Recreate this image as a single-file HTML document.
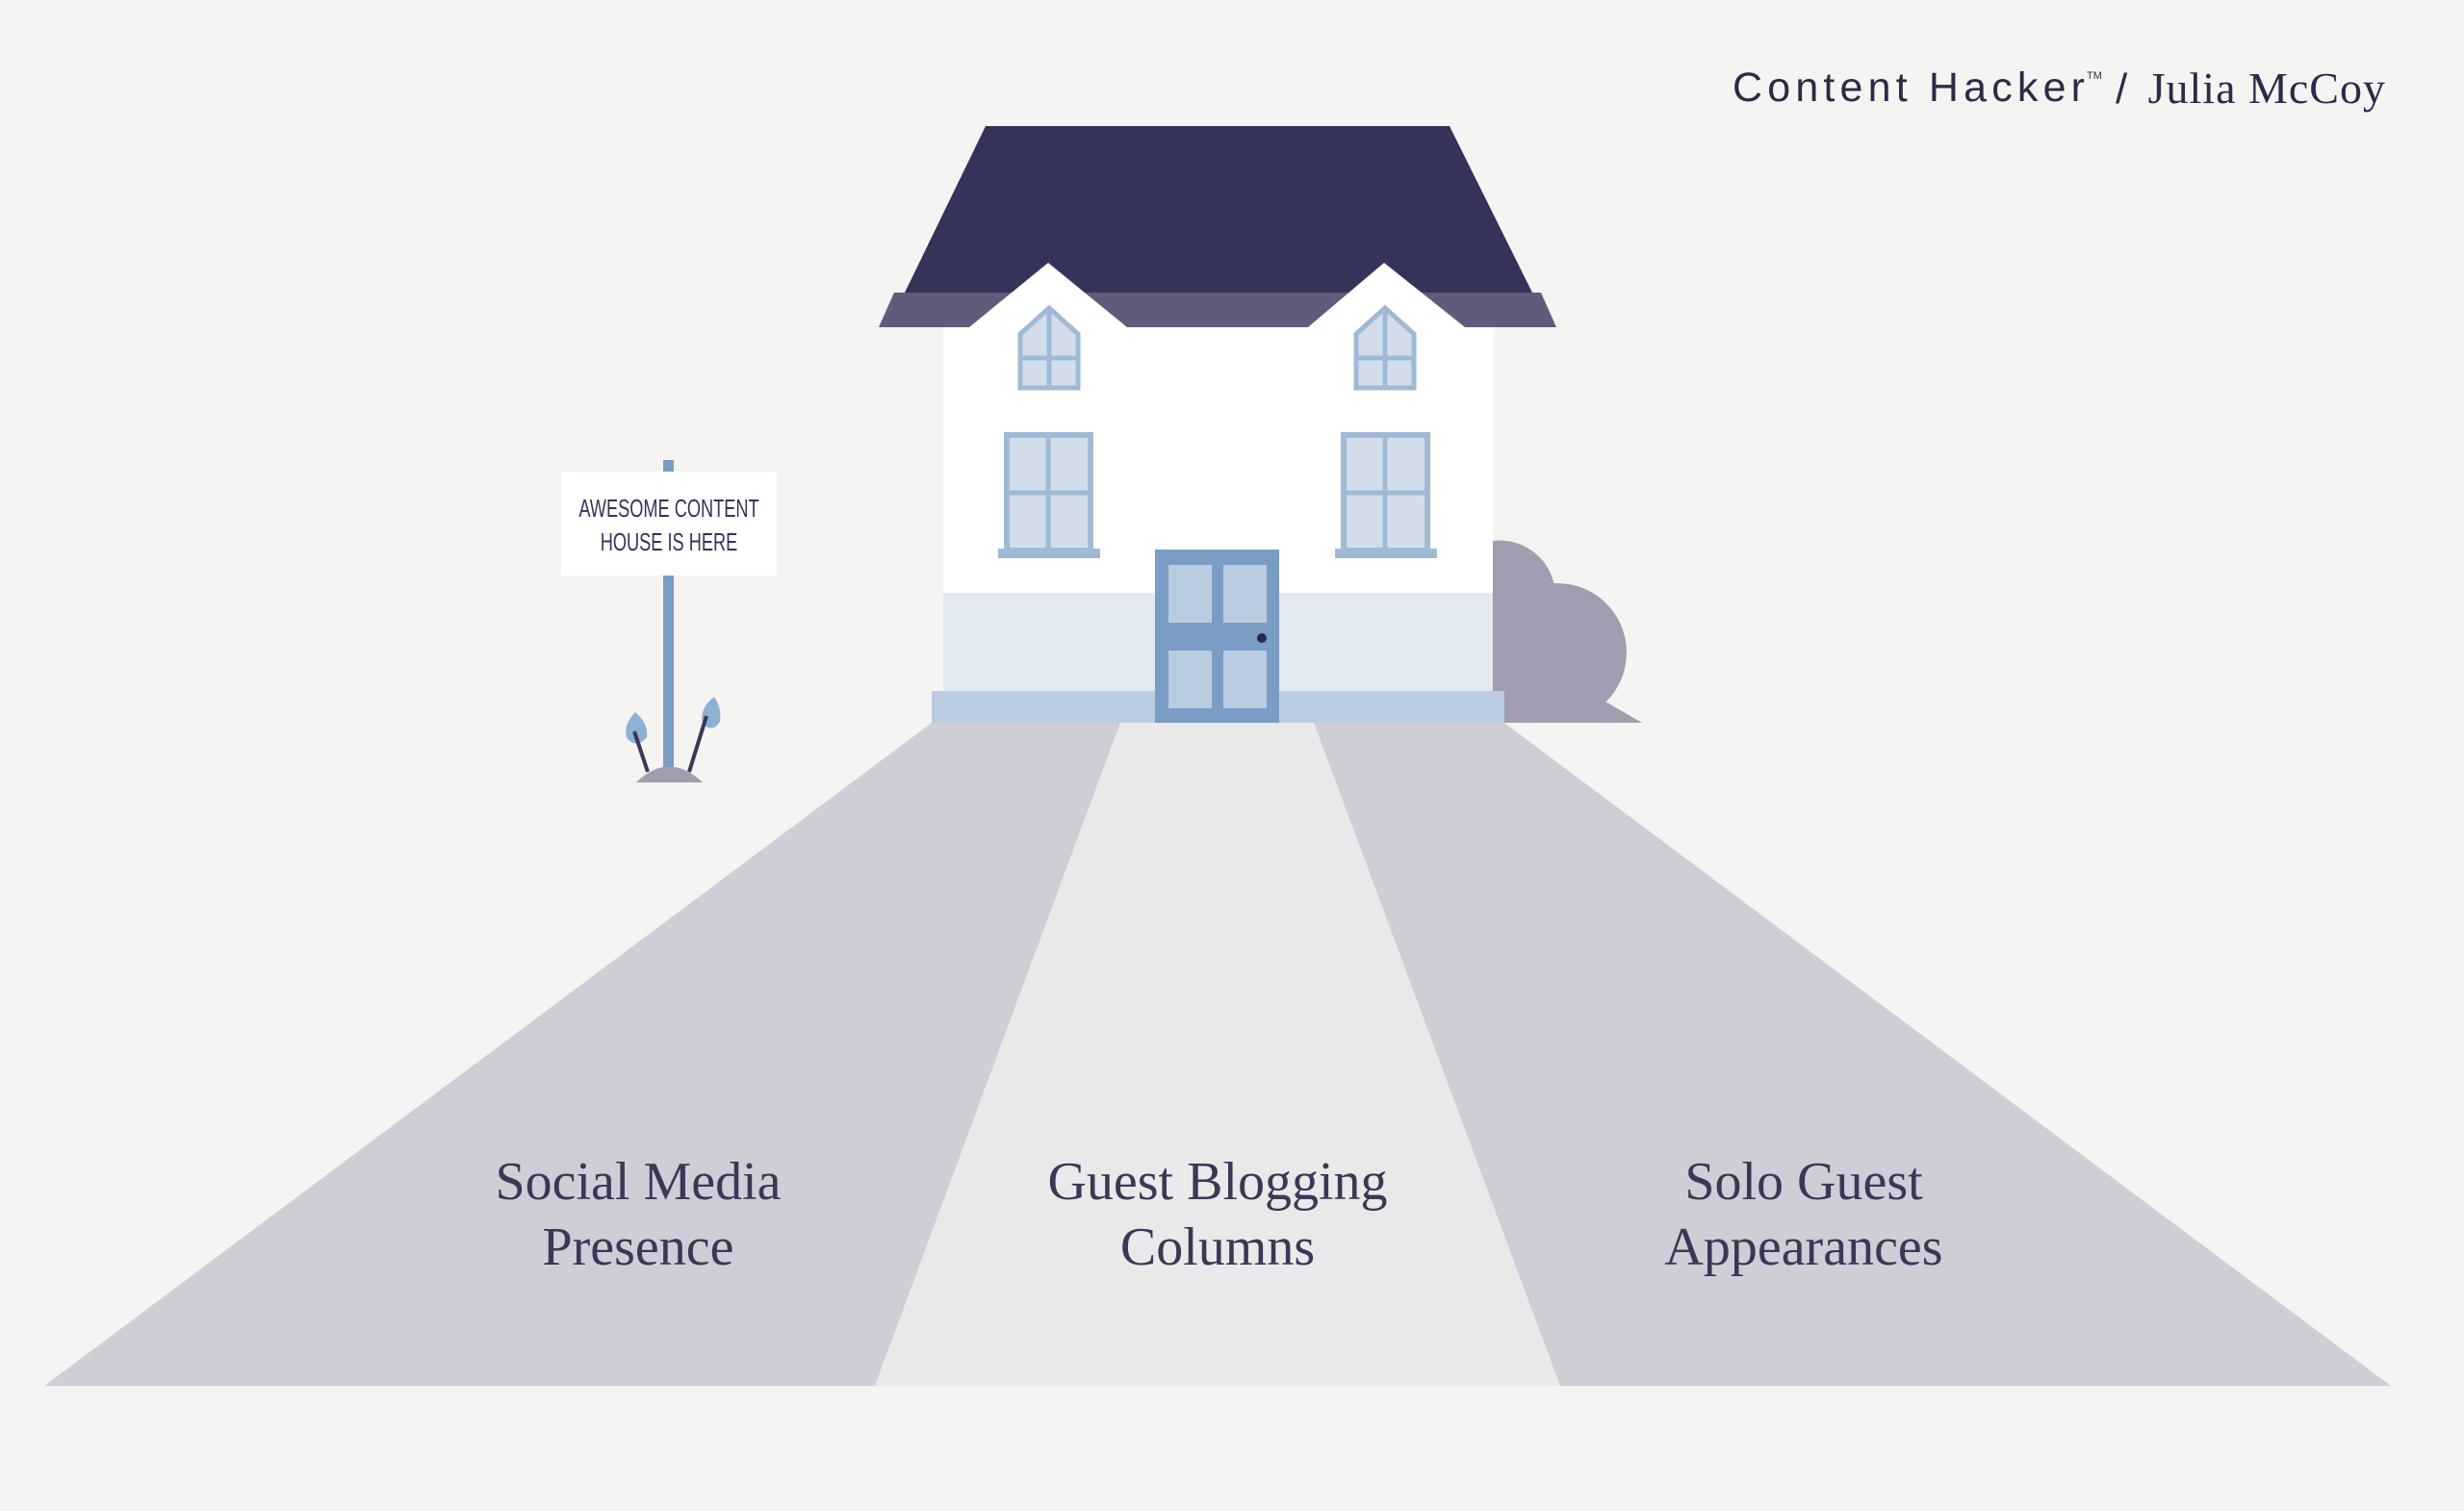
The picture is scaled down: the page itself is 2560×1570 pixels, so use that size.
<!DOCTYPE html>
<html><head><meta charset="utf-8"><style>
html,body{margin:0;padding:0;background:#f6f3f3;}
body{width:2560px;height:1570px;overflow:hidden;position:relative;}
svg{position:absolute;left:0;top:0;}
</style></head><body>
<svg width="2560" height="1570" viewBox="0 0 2560 1570" xmlns="http://www.w3.org/2000/svg">
<rect width="2560" height="1570" fill="#f6f3f3"/>
<!-- paths -->
<polygon points="968,751 1164,751 909,1440 46,1440" fill="#cfced6"/>
<polygon points="1164,751 1365,751 1621,1440 909,1440" fill="#ebe8ea"/>
<polygon points="1365,751 1563,751 2484,1440 1621,1440" fill="#cfced6"/>
<!-- bush -->
<path d="M1551,562 A58,58 0 0 1 1616,616 A72,72 0 0 1 1656,722 L1706,751 L1551,751 Z" fill="#a09db0"/>
<circle cx="1618" cy="678" r="72" fill="#a09db0"/>
<rect x="1551" y="680" width="70" height="71" fill="#a09db0"/>
<!-- house body -->
<rect x="980" y="330" width="571" height="388" fill="#ffffff"/>
<rect x="980" y="616" width="571" height="102" fill="#e3e9f1"/>
<!-- roof -->
<polygon points="1024,131 1506,131 1592,304 940,304" fill="#35335a"/>
<polygon points="929,304 1601,304 1617,340 913,340" fill="#5e5c7a"/>
<polygon points="1007,340 1089,273 1171,340" fill="#ffffff"/>
<polygon points="1359,340 1438,273 1522,340" fill="#ffffff"/>
<!-- upper windows -->
<g fill="#d3dde9" stroke="#9fbad6" stroke-width="5">
<path d="M1060,403 L1060,347 L1090,320 L1120,347 L1120,403 Z"/>
<path d="M1409,403 L1409,347 L1439,320 L1469,347 L1469,403 Z"/>
</g>
<g stroke="#9fbad6" stroke-width="5">
<line x1="1090" y1="322" x2="1090" y2="403"/><line x1="1060" y1="372" x2="1120" y2="372"/>
<line x1="1439" y1="322" x2="1439" y2="403"/><line x1="1409" y1="372" x2="1469" y2="372"/>
</g>
<!-- lower windows -->
<g fill="#d3dde9" stroke="#9fbad6" stroke-width="6">
<rect x="1046" y="452" width="87" height="120"/>
<rect x="1396" y="452" width="87" height="120"/>
</g>
<g stroke="#9fbad6" stroke-width="5">
<line x1="1089" y1="452" x2="1089" y2="572"/><line x1="1046" y1="512" x2="1133" y2="512"/>
<line x1="1439" y1="452" x2="1439" y2="572"/><line x1="1396" y1="512" x2="1483" y2="512"/>
</g>
<rect x="1037" y="570" width="106" height="10" fill="#9fbad6"/>
<rect x="1387" y="570" width="106" height="10" fill="#9fbad6"/>
<!-- step -->
<rect x="968" y="718" width="595" height="33" fill="#b9cce0"/>
<!-- door -->
<rect x="1200" y="571" width="129" height="180" fill="#7a9dc4"/>
<g fill="#b9cce0">
<rect x="1214" y="587" width="45" height="60"/><rect x="1271" y="587" width="45" height="60"/>
<rect x="1214" y="676" width="45" height="60"/><rect x="1271" y="676" width="45" height="60"/>
</g>
<circle cx="1311" cy="663" r="5" fill="#2c2a48"/>
<!-- sign -->
<rect x="689" y="478" width="11" height="320" fill="#7a9dc4"/>
<rect x="583" y="490" width="224" height="108" fill="#ffffff"/>
<text x="695" y="537" text-anchor="middle" font-family="Liberation Sans Narrow, Liberation Sans, sans-serif" font-size="26" fill="#35335a" transform="translate(695,0) scale(0.7,1) translate(-695,0)">AWESOME CONTENT</text>
<text x="695" y="572" text-anchor="middle" font-family="Liberation Sans Narrow, Liberation Sans, sans-serif" font-size="26" fill="#35335a" transform="translate(695,0) scale(0.7,1) translate(-695,0)">HOUSE IS HERE</text>
<path d="M661,813 Q695,780 730,813 Z" fill="#a09db0"/>
<path d="M660,740 Q646,755 652,768 Q662,778 672,766 Q674,752 660,740 Z" fill="#8eb0d3"/>
<path d="M742,724 Q726,736 730,752 Q740,762 748,750 Q750,735 742,724 Z" fill="#8eb0d3"/>
<line x1="659" y1="760" x2="673" y2="802" stroke="#3a3857" stroke-width="4"/>
<line x1="734" y1="744" x2="716" y2="802" stroke="#3a3857" stroke-width="4"/>
<!-- labels -->
<g font-family="Liberation Serif, serif" font-size="56" fill="#3a3857" text-anchor="middle">
<text x="663" y="1246">Social Media</text><text x="663" y="1314">Presence</text>
<text x="1265" y="1246">Guest Blogging</text><text x="1265" y="1314">Columns</text>
<text x="1874" y="1246">Solo Guest</text><text x="1874" y="1314">Appearances</text>
</g>
<!-- header -->
<text x="1800" y="105" font-family="Liberation Sans, sans-serif" font-size="43" textLength="366" lengthAdjust="spacing" fill="#2c2a48">Content Hacker</text>
<text x="2168" y="82" font-family="Liberation Sans, sans-serif" font-size="11" fill="#2c2a48">TM</text>
<text x="2198" y="107" font-family="Liberation Sans, sans-serif" font-size="44" fill="#2c2a48">/</text>
<text x="2479" y="107" text-anchor="end" font-family="Liberation Serif, serif" font-size="46" letter-spacing="1" fill="#2c2a48">Julia McCoy</text>
</svg>
</body></html>
